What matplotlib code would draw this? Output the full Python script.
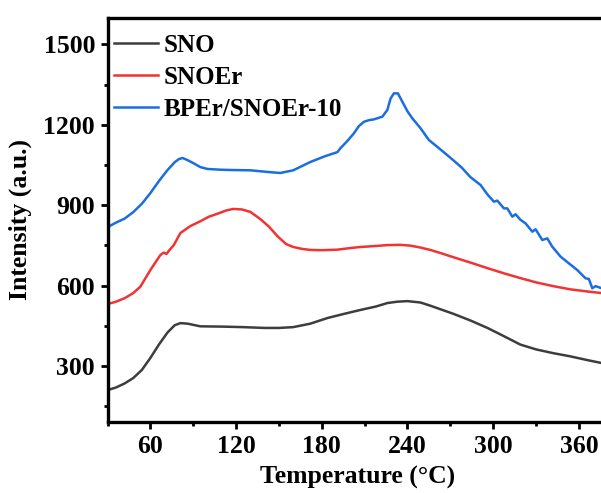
import matplotlib
matplotlib.use("Agg")
import matplotlib.pyplot as plt
from matplotlib.ticker import MultipleLocator

plt.rcParams['font.family'] = ['Liberation Serif', 'DejaVu Serif']
plt.rcParams['font.weight'] = 'bold'

# Temperature-programmed curves
t_sno = [30, 36, 42, 48, 54, 60, 66, 72, 77, 81, 86, 95, 110, 125, 140, 150,
         160, 172, 184, 196, 207, 218, 226, 233, 240, 249, 256, 264, 272, 284,
         296, 308, 319, 330, 342, 354, 366, 376]
sno = [210, 220, 235, 255, 285, 330, 380, 425, 452, 460, 458, 448, 447, 445,
       442, 442, 445, 458, 479, 495, 509, 522, 535, 540, 542, 537, 525, 510,
       495, 470, 442, 410, 380, 362, 348, 336, 322, 311]

t_snoer = [30, 36, 42, 48, 53, 60, 65, 67, 69.4, 71.3, 73, 76.4, 81, 88, 95,
           101, 107, 113, 118, 124, 130, 137, 143, 149, 155, 160, 166, 172,
           180, 191, 200, 207, 216, 226, 235, 242, 249, 256, 264, 272, 284,
           296, 308, 319, 330, 342, 354, 366, 376]
snoer = [531, 540, 553, 572, 596, 658, 698, 714, 723, 718, 730, 751, 796, 822,
         840, 857, 868, 880, 886, 884, 875, 848, 820, 784, 755, 744, 737, 733,
         732, 734, 740, 744, 747, 751, 752, 749, 742, 733, 720, 706, 686, 665,
         645, 628, 612, 598, 586, 578, 572]

t_bper = [30, 36, 42, 48, 54, 60, 66, 72, 77, 80, 82.5, 86, 90, 95, 100, 110,
          118, 130, 144, 151, 160, 172, 182, 191, 193, 198, 202.5, 206, 209.5,
          213, 216.5, 222.4, 225.9, 228.2, 230.5, 233.3, 236.4, 240, 243.4,
          249, 255, 261, 266, 272, 278, 284, 291.2, 296, 300.5, 302.9, 307.5,
          309.9, 313.4, 315.7, 319.2, 322.7, 327.4, 329.7, 334.4, 337.9, 341.4,
          347.2, 353, 358.9, 364.7, 367, 369.4, 371.7, 376]
bper = [818, 835, 850, 874, 905, 945, 990, 1031, 1060, 1072, 1076, 1068, 1057,
        1042, 1035, 1032, 1031, 1030, 1023, 1020, 1030, 1061, 1082, 1098, 1112,
        1140, 1168, 1195, 1211, 1217, 1220, 1230, 1255, 1298, 1317, 1317, 1286,
        1250, 1224, 1188, 1143, 1117, 1095, 1068, 1040, 1005, 975, 940, 913,
        917, 888, 888, 857, 866, 845, 832, 801, 810, 770, 776, 745, 708, 683,
        658, 627, 625, 590, 598, 590]

labels = ['SNO', 'SNOEr', 'BPEr/SNOEr-10']
colors = ['#3d3d3d', '#f03333', '#1a6ee0']

fig = plt.figure(figsize=(6.01, 4.93), dpi=100)
ax = fig.add_axes([0.1789, 0.1434, 0.8318, 0.8211])

for t, y, lab, c in zip([t_sno, t_snoer, t_bper], [sno, snoer, bper], labels, colors):
    ax.plot(t, y, color=c, lw=1.8, label=lab)

ax.set_xlim(30, 380)
ax.set_ylim(90, 1600)
ax.xaxis.set_major_locator(MultipleLocator(60))
ax.xaxis.set_minor_locator(MultipleLocator(30))
ax.yaxis.set_major_locator(MultipleLocator(300))
ax.yaxis.set_minor_locator(MultipleLocator(150))

for s in ax.spines.values():
    s.set_linewidth(2.4)
ax.tick_params(which='major', direction='out', length=5, width=2, labelsize=18.5, pad=4)
ax.tick_params(which='minor', direction='out', length=3, width=2)
ax.tick_params(top=False, right=False)

ax.set_xlabel('Temperature (°C)', fontsize=18.5, fontweight='bold', labelpad=6)
ax.set_ylabel('Intensity (a.u.)', fontsize=18.5, fontweight='bold', labelpad=8)

ax.legend(loc='upper left', frameon=False, fontsize=18, handlelength=1.75,
          handletextpad=0.25, labelspacing=0.36, borderaxespad=0.05,
          bbox_to_anchor=(-0.01, 0.988))

fig.savefig('out.png', dpi=100)
